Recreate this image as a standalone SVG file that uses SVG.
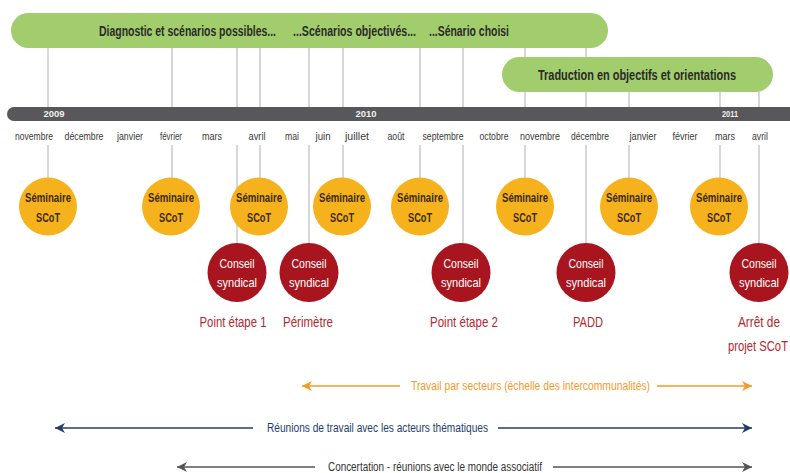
<svg xmlns="http://www.w3.org/2000/svg" width="790" height="473" viewBox="0 0 790 473">
<defs>
<style>
.bar{fill:#a2cd6c}
.bartxt{font-family:"Liberation Sans",Arial,sans-serif;font-weight:bold;font-size:14px;fill:#2a2a2a}
.month{font-family:"Liberation Sans",Arial,sans-serif;font-size:11px;fill:#3a3a3a;text-anchor:middle}
.year{font-family:"Liberation Sans",Arial,sans-serif;font-weight:bold;font-size:9px;fill:#f0f0f0;text-anchor:middle}
.vl{stroke:#cacacd;stroke-width:1.5;fill:none}
.sem circle{fill:#f6b21c}
.sem text{font-family:"Liberation Sans",Arial,sans-serif;font-weight:bold;font-size:12px;fill:#3b2a0c;text-anchor:middle}
.cs circle{fill:#a8151e}
.cs text{font-family:"Liberation Sans",Arial,sans-serif;font-size:13px;fill:#ffffff;text-anchor:middle}
.lbl{font-family:"Liberation Sans",Arial,sans-serif;font-size:14px;fill:#b3282e;text-anchor:middle}
.atxt{font-family:"Liberation Sans",Arial,sans-serif;font-size:12.5px}
</style>
<marker id="ao" markerUnits="userSpaceOnUse" markerWidth="11" markerHeight="11" refX="10" refY="5" orient="auto-start-reverse"><path d="M0,0 L10,5 L0,10 L3,5 z" fill="#f39a2b"/></marker>
<marker id="ab" markerUnits="userSpaceOnUse" markerWidth="11" markerHeight="11" refX="10" refY="5" orient="auto-start-reverse"><path d="M0,0 L10,5 L0,10 L3,5 z" fill="#1f3e6a"/></marker>
<marker id="ag" markerUnits="userSpaceOnUse" markerWidth="11" markerHeight="11" refX="10" refY="5" orient="auto-start-reverse"><path d="M0,0 L10,5 L0,10 L3,5 z" fill="#555558"/></marker>
</defs>
<rect width="790" height="473" fill="#ffffff"/>

<g id="connectors">
<g class="vl">
<line x1="48" y1="48" x2="48" y2="107"/><line x1="48" y1="145" x2="48" y2="178"/>
<line x1="172" y1="48" x2="172" y2="107"/><line x1="172" y1="145" x2="172" y2="178"/>
<line x1="237" y1="48" x2="237" y2="107"/><line x1="237" y1="145" x2="237" y2="244"/>
<line x1="260" y1="48" x2="260" y2="107"/><line x1="260" y1="145" x2="260" y2="178"/>
<line x1="309" y1="48" x2="309" y2="107"/><line x1="309" y1="145" x2="309" y2="244"/>
<line x1="343" y1="48" x2="343" y2="107"/><line x1="343" y1="145" x2="343" y2="178"/>
<line x1="420" y1="48" x2="420" y2="107"/><line x1="420" y1="145" x2="420" y2="178"/>
<line x1="463" y1="48" x2="463" y2="107"/><line x1="463" y1="145" x2="463" y2="244"/>
<line x1="525" y1="48" x2="525" y2="107"/><line x1="525" y1="145" x2="525" y2="178"/>
<line x1="586" y1="48" x2="586" y2="107"/><line x1="586" y1="145" x2="586" y2="244"/>
<line x1="629" y1="92" x2="629" y2="107"/><line x1="629" y1="145" x2="629" y2="178"/>
<line x1="720" y1="92" x2="720" y2="107"/><line x1="720" y1="145" x2="720" y2="178"/>
<line x1="759" y1="92" x2="759" y2="107"/><line x1="759" y1="145" x2="759" y2="244"/>
</g>
<g id="arrow-secteurs" stroke="#f39a2b" stroke-width="1.5">
<line x1="302" y1="386" x2="400" y2="386" marker-start="url(#ao)"/>
<line x1="657" y1="386" x2="752" y2="386" marker-end="url(#ao)"/>
</g>
<g id="arrow-reunions" stroke="#1f3e6a" stroke-width="1.5">
<line x1="55" y1="428" x2="253" y2="428" marker-start="url(#ab)"/>
<line x1="498" y1="428" x2="752" y2="428" marker-end="url(#ab)"/>
</g>
<g id="arrow-concertation" stroke="#555558" stroke-width="1.5">
<line x1="177" y1="467" x2="315" y2="467" marker-start="url(#ag)"/>
<line x1="553" y1="467" x2="752" y2="467" marker-end="url(#ag)"/>
</g>
</g>

<g id="phase1">
<rect class="bar" x="11" y="13" width="597" height="35" rx="17.5"/>
<text class="bartxt" x="99" y="36" textLength="177" lengthAdjust="spacingAndGlyphs">Diagnostic et scénarios possibles...</text>
<text class="bartxt" x="293" y="36" textLength="123" lengthAdjust="spacingAndGlyphs">...Scénarios objectivés...</text>
<text class="bartxt" x="429" y="36" textLength="80" lengthAdjust="spacingAndGlyphs">...Sénario choisi</text>
</g>
<g id="phase2">
<rect class="bar" x="502" y="57" width="271" height="35" rx="17.5"/>
<text class="bartxt" x="538" y="80" textLength="198" lengthAdjust="spacingAndGlyphs">Traduction en objectifs et orientations</text>
</g>

<g id="timeline">
<rect x="7" y="107" width="800" height="14" rx="7" fill="#58585b"/>
<text class="year" x="54" y="117" textLength="21" lengthAdjust="spacingAndGlyphs">2009</text>
<text class="year" x="366" y="117" textLength="21" lengthAdjust="spacingAndGlyphs">2010</text>
<text class="year" x="730" y="117" textLength="16" lengthAdjust="spacingAndGlyphs">2011</text>
<text class="month" x="34" y="140" textLength="38" lengthAdjust="spacingAndGlyphs">novembre</text>
<text class="month" x="84" y="140" textLength="39" lengthAdjust="spacingAndGlyphs">décembre</text>
<text class="month" x="130" y="140" textLength="26" lengthAdjust="spacingAndGlyphs">janvier</text>
<text class="month" x="171" y="140" textLength="22" lengthAdjust="spacingAndGlyphs">février</text>
<text class="month" x="212" y="140" textLength="20" lengthAdjust="spacingAndGlyphs">mars</text>
<text class="month" x="257" y="140" textLength="17" lengthAdjust="spacingAndGlyphs">avril</text>
<text class="month" x="292" y="140" textLength="14" lengthAdjust="spacingAndGlyphs">mai</text>
<text class="month" x="323" y="140" textLength="15" lengthAdjust="spacingAndGlyphs">juin</text>
<text class="month" x="357" y="140" textLength="24" lengthAdjust="spacingAndGlyphs">juillet</text>
<text class="month" x="396" y="140" textLength="17" lengthAdjust="spacingAndGlyphs">août</text>
<text class="month" x="443" y="140" textLength="41" lengthAdjust="spacingAndGlyphs">septembre</text>
<text class="month" x="494" y="140" textLength="29" lengthAdjust="spacingAndGlyphs">octobre</text>
<text class="month" x="540" y="140" textLength="40" lengthAdjust="spacingAndGlyphs">novembre</text>
<text class="month" x="590" y="140" textLength="38" lengthAdjust="spacingAndGlyphs">décembre</text>
<text class="month" x="643" y="140" textLength="27" lengthAdjust="spacingAndGlyphs">janvier</text>
<text class="month" x="685" y="140" textLength="25" lengthAdjust="spacingAndGlyphs">février</text>
<text class="month" x="725" y="140" textLength="20" lengthAdjust="spacingAndGlyphs">mars</text>
<text class="month" x="760" y="140" textLength="16" lengthAdjust="spacingAndGlyphs">avril</text>
</g>

<g id="sem1" class="sem"><circle cx="48" cy="206.5" r="29"/><text x="48" y="202" textLength="46" lengthAdjust="spacingAndGlyphs">Séminaire</text><text x="48" y="222" textLength="24" lengthAdjust="spacingAndGlyphs">SCoT</text></g>
<g id="sem2" class="sem"><circle cx="171" cy="206.5" r="29"/><text x="171" y="202" textLength="46" lengthAdjust="spacingAndGlyphs">Séminaire</text><text x="171" y="222" textLength="24" lengthAdjust="spacingAndGlyphs">SCoT</text></g>
<g id="sem3" class="sem"><circle cx="259" cy="206.5" r="29"/><text x="259" y="202" textLength="46" lengthAdjust="spacingAndGlyphs">Séminaire</text><text x="259" y="222" textLength="24" lengthAdjust="spacingAndGlyphs">SCoT</text></g>
<g id="sem4" class="sem"><circle cx="342" cy="206.5" r="29"/><text x="342" y="202" textLength="46" lengthAdjust="spacingAndGlyphs">Séminaire</text><text x="342" y="222" textLength="24" lengthAdjust="spacingAndGlyphs">SCoT</text></g>
<g id="sem5" class="sem"><circle cx="420" cy="206.5" r="29"/><text x="420" y="202" textLength="46" lengthAdjust="spacingAndGlyphs">Séminaire</text><text x="420" y="222" textLength="24" lengthAdjust="spacingAndGlyphs">SCoT</text></g>
<g id="sem6" class="sem"><circle cx="525" cy="206.5" r="29"/><text x="525" y="202" textLength="46" lengthAdjust="spacingAndGlyphs">Séminaire</text><text x="525" y="222" textLength="24" lengthAdjust="spacingAndGlyphs">SCoT</text></g>
<g id="sem7" class="sem"><circle cx="629" cy="206.5" r="29"/><text x="629" y="202" textLength="46" lengthAdjust="spacingAndGlyphs">Séminaire</text><text x="629" y="222" textLength="24" lengthAdjust="spacingAndGlyphs">SCoT</text></g>
<g id="sem8" class="sem"><circle cx="719" cy="206.5" r="29"/><text x="719" y="202" textLength="46" lengthAdjust="spacingAndGlyphs">Séminaire</text><text x="719" y="222" textLength="24" lengthAdjust="spacingAndGlyphs">SCoT</text></g>

<g id="cs1" class="cs"><circle cx="237" cy="272.5" r="29.5"/><text x="237" y="268" textLength="35" lengthAdjust="spacingAndGlyphs">Conseil</text><text x="237" y="287" textLength="40" lengthAdjust="spacingAndGlyphs">syndical</text></g>
<g id="cs2" class="cs"><circle cx="309" cy="272.5" r="29.5"/><text x="309" y="268" textLength="35" lengthAdjust="spacingAndGlyphs">Conseil</text><text x="309" y="287" textLength="40" lengthAdjust="spacingAndGlyphs">syndical</text></g>
<g id="cs3" class="cs"><circle cx="461" cy="272.5" r="29.5"/><text x="461" y="268" textLength="35" lengthAdjust="spacingAndGlyphs">Conseil</text><text x="461" y="287" textLength="40" lengthAdjust="spacingAndGlyphs">syndical</text></g>
<g id="cs4" class="cs"><circle cx="586" cy="272.5" r="29.5"/><text x="586" y="268" textLength="35" lengthAdjust="spacingAndGlyphs">Conseil</text><text x="586" y="287" textLength="40" lengthAdjust="spacingAndGlyphs">syndical</text></g>
<g id="cs5" class="cs"><circle cx="759" cy="272.5" r="29.5"/><text x="759" y="268" textLength="35" lengthAdjust="spacingAndGlyphs">Conseil</text><text x="759" y="287" textLength="40" lengthAdjust="spacingAndGlyphs">syndical</text></g>

<g id="labels">
<text class="lbl" x="233" y="327" textLength="67" lengthAdjust="spacingAndGlyphs">Point étape 1</text>
<text class="lbl" x="308" y="327" textLength="50" lengthAdjust="spacingAndGlyphs">Périmètre</text>
<text class="lbl" x="464" y="327" textLength="68" lengthAdjust="spacingAndGlyphs">Point étape 2</text>
<text class="lbl" x="588" y="327" textLength="30" lengthAdjust="spacingAndGlyphs">PADD</text>
<text class="lbl" x="759" y="327" textLength="42" lengthAdjust="spacingAndGlyphs">Arrêt de</text>
<text class="lbl" x="758" y="351" textLength="60" lengthAdjust="spacingAndGlyphs">projet SCoT</text>
</g>

<g id="arrow-labels">
<text class="atxt" x="411" y="390" fill="#f39a2b" textLength="239" lengthAdjust="spacingAndGlyphs">Travail par secteurs (échelle des intercommunalités)</text>
<text class="atxt" x="267" y="432" fill="#1f3e6a" textLength="221" lengthAdjust="spacingAndGlyphs">Réunions de travail avec les acteurs thématiques</text>
<text class="atxt" x="328" y="471" fill="#333335" textLength="214" lengthAdjust="spacingAndGlyphs">Concertation - réunions avec le monde associatif</text>
</g>
</svg>
